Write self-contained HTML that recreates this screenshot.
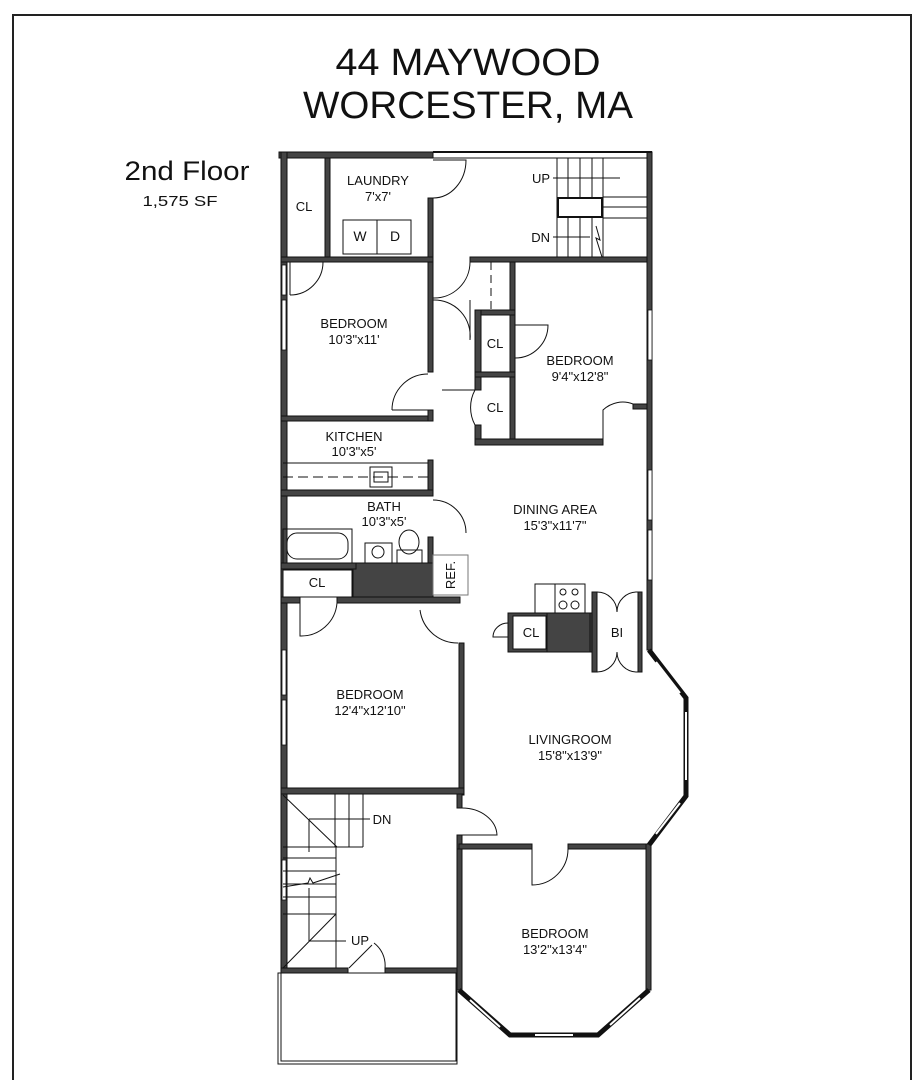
<!DOCTYPE html>
<html><head><meta charset="utf-8"><style>
html,body{margin:0;padding:0;background:#fff;}
svg{display:block;}
text{font-family:"Liberation Sans",sans-serif;fill:#111;}
</style></head><body>
<svg width="922" height="1080" viewBox="0 0 922 1080" xmlns="http://www.w3.org/2000/svg">
<rect x="13" y="15" width="898" height="1080" fill="none" stroke="#222" stroke-width="2"/>
<text x="468" y="75" font-size="38" text-anchor="middle" textLength="265" lengthAdjust="spacingAndGlyphs">44 MAYWOOD</text>
<text x="468" y="118" font-size="38" text-anchor="middle" textLength="330" lengthAdjust="spacingAndGlyphs">WORCESTER, MA</text>
<text x="187" y="180" font-size="27" text-anchor="middle" textLength="125" lengthAdjust="spacingAndGlyphs">2nd Floor</text>
<text x="180" y="206" font-size="15" text-anchor="middle" textLength="75" lengthAdjust="spacingAndGlyphs">1,575 SF</text>

<g fill="#444" stroke="#111" stroke-width="1">
<rect x="279" y="152" width="154" height="6"/>
<rect x="281" y="152" width="6" height="818"/>
<rect x="325" y="158" width="5" height="100"/>
<rect x="428" y="198" width="5" height="60"/>
<rect x="281" y="257" width="152" height="5"/>
<rect x="470" y="257" width="182" height="5"/>
<rect x="647" y="152" width="5" height="498"/>
<rect x="428" y="262" width="5" height="110"/>
<rect x="281" y="416" width="152" height="5"/>
<rect x="428" y="410" width="5" height="11"/>
<rect x="510" y="262" width="5" height="183"/>
<rect x="475" y="310" width="40" height="5"/>
<rect x="475" y="310" width="6" height="80"/>
<rect x="475" y="372" width="40" height="5"/>
<rect x="475" y="425" width="6" height="20"/>
<rect x="475" y="439" width="128" height="6"/>
<rect x="633" y="404" width="14" height="5"/>
<rect x="428" y="460" width="5" height="36"/>
<rect x="281" y="490" width="152" height="6"/>
<rect x="428" y="537" width="5" height="66"/>
<rect x="353" y="563" width="80" height="40"/>
<rect x="281" y="563" width="75" height="6"/>
<rect x="281" y="597" width="19" height="6"/>
<rect x="337" y="597" width="123" height="6"/>
<rect x="459" y="643" width="5" height="152"/>
<rect x="281" y="788" width="183" height="6"/>
<rect x="508" y="613" width="89" height="39"/>
<rect x="547" y="613" width="43" height="39"/>
<rect x="592" y="592" width="5" height="80"/>
<rect x="638" y="592" width="4" height="80"/>
<rect x="457" y="794" width="5" height="14"/>
<rect x="457" y="835" width="5" height="138"/>
<rect x="281" y="968" width="67" height="5"/>
<rect x="385" y="968" width="77" height="5"/>
<rect x="459" y="844" width="73" height="5"/>
<rect x="568" y="844" width="83" height="5"/>
<rect x="646" y="844" width="5" height="146"/>
<rect x="457" y="849" width="5" height="141"/>
</g>
<rect x="513" y="616" width="33" height="33" fill="#fff" stroke="#111"/>
<rect x="283" y="570" width="69" height="27" fill="#fff" stroke="#111"/>
<!-- window breaks on left wall -->
<g fill="#fff" stroke="#111" stroke-width="0.8">
<rect x="282" y="265" width="4" height="30"/>
<rect x="282" y="300" width="4" height="50"/>
<rect x="282" y="650" width="4" height="45"/>
<rect x="282" y="700" width="4" height="45"/>
<rect x="282" y="860" width="4" height="40"/>
<rect x="648" y="310" width="4" height="50"/>
<rect x="648" y="470" width="4" height="50"/>
<rect x="648" y="530" width="4" height="50"/>
</g>

<g fill="none" stroke="#111" stroke-width="5" stroke-linejoin="miter">
<polyline points="649,650 686,698 686,796 649,845"/>
<polyline points="459,990 510,1035 598,1035 649,990"/>
</g>
<g fill="none" stroke="#fff" stroke-width="2">
<line x1="656" y1="662" x2="680" y2="693"/>
<line x1="686" y1="712" x2="686" y2="780"/>
<line x1="680" y1="803" x2="656" y2="834"/>
<line x1="470" y1="1000" x2="500" y2="1027"/>
<line x1="535" y1="1035" x2="573" y2="1035"/>
<line x1="610" y1="1025" x2="640" y2="998"/>
</g>

<g fill="none" stroke="#111" stroke-width="1">
<line x1="433" y1="152" x2="652" y2="152" stroke-width="2"/>
<line x1="433" y1="158" x2="647" y2="158"/>
<line x1="557" y1="158" x2="557" y2="257"/>
<line x1="568" y1="158" x2="568" y2="198"/><line x1="568" y1="217" x2="568" y2="257"/>
<line x1="580" y1="158" x2="580" y2="198"/><line x1="580" y1="217" x2="580" y2="257"/>
<line x1="592" y1="158" x2="592" y2="198"/><line x1="592" y1="217" x2="592" y2="257"/>
<line x1="603" y1="158" x2="603" y2="257"/>
<line x1="603" y1="197" x2="647" y2="197"/><line x1="603" y1="207" x2="647" y2="207"/><line x1="603" y1="218" x2="647" y2="218"/>
<rect x="558" y="198" width="44" height="19" stroke-width="2"/>
<line x1="553" y1="178" x2="620" y2="178"/>
<line x1="553" y1="237" x2="590" y2="237"/>
<polyline points="596,226 600,240 596,238 602,257"/>
<rect x="343" y="220" width="34" height="34"/><rect x="377" y="220" width="34" height="34"/>
<path d="M433,160 L466,160 A33,38 0 0 1 433,198"/>
<path d="M290,295 L290,262 M290,295 A33,33 0 0 0 323,262"/>
<path d="M433,298 A36,36 0 0 0 470,262"/>
<path d="M433,300 A36,36 0 0 1 470,340 L470,300"/>
<path d="M392,410 L428,410 M392,410 A36,36 0 0 1 428,374"/>
<line x1="491" y1="262" x2="491" y2="310" stroke-dasharray="8,5"/>
<path d="M515,325 L548,325 A33,33 0 0 1 515,358"/>
<path d="M442,390 L475,390 A33,35 0 0 0 475,425"/>
<path d="M603,442 L603,410 A30,32 0 0 1 633,404"/>
<line x1="283" y1="463" x2="428" y2="463"/>
<line x1="283" y1="477" x2="428" y2="477" stroke-dasharray="10,5"/>
<rect x="370" y="467" width="22" height="20"/>
<rect x="374" y="472" width="14" height="10"/>
<path d="M433,500 A33,33 0 0 1 466,533"/>
<rect x="283" y="529" width="69" height="34"/>
<rect x="287" y="533" width="61" height="26" rx="10"/>
<rect x="365" y="543" width="27" height="20"/>
<circle cx="378" cy="552" r="6"/>
<rect x="397" y="550" width="25" height="13"/>
<ellipse cx="409" cy="542" rx="10" ry="12"/>
<rect x="433" y="555" width="35" height="40" stroke="#777"/>
<path d="M300,603 L300,636 A36,36 0 0 0 337,603"/>
<path d="M420,610 A38,38 0 0 0 458,643"/>
<rect x="535" y="584" width="50" height="29"/>
<line x1="555" y1="584" x2="555" y2="613"/>
<circle cx="563" cy="592" r="3"/><circle cx="575" cy="592" r="3"/><circle cx="563" cy="605" r="4"/><circle cx="575" cy="605" r="4"/>
<path d="M508,637 L493,637 A15,14 0 0 1 508,623"/>
<path d="M597,592 A20,20 0 0 1 617,612 A20,20 0 0 1 638,592"/>
<path d="M597,672 A20,20 0 0 0 617,652 A20,20 0 0 0 638,672"/>
<path d="M462,808 A35,28 0 0 1 497,835 L462,835"/>
<line x1="283" y1="795" x2="337" y2="847"/>
<line x1="335" y1="794" x2="335" y2="847"/>
<line x1="349" y1="794" x2="349" y2="847"/>
<line x1="363" y1="794" x2="363" y2="847"/>
<line x1="283" y1="847" x2="363" y2="847"/>
<line x1="309" y1="819" x2="370" y2="819"/>
<line x1="309" y1="819" x2="309" y2="852"/>
<line x1="283" y1="858" x2="336" y2="858"/>
<line x1="283" y1="871" x2="336" y2="871"/>
<line x1="283" y1="884" x2="336" y2="884"/>
<line x1="283" y1="897" x2="336" y2="897"/>
<line x1="283" y1="914" x2="336" y2="914"/>
<line x1="336" y1="847" x2="336" y2="968"/>
<polyline points="283,887 308,883 310,878 313,883 340,874"/>
<line x1="283" y1="968" x2="336" y2="914"/>
<line x1="309" y1="888" x2="309" y2="941"/>
<line x1="309" y1="941" x2="346" y2="941"/>
<line x1="349" y1="968" x2="372" y2="945"/>
<path d="M374,943 A28,28 0 0 1 385,968"/>
<path d="M532,849 L532,885 A36,36 0 0 0 568,849"/>
<rect x="278" y="973" width="179" height="91" stroke-width="1"/>
<rect x="281" y="973" width="175" height="88" stroke-width="1"/>
</g>

<g font-size="13" text-anchor="middle" style="fill:#222">
<text x="304" y="211">CL</text>
<text x="378" y="185">LAUNDRY</text>
<text x="378" y="201">7'x7'</text>
<text x="360" y="241" font-size="14">W</text>
<text x="395" y="241" font-size="14">D</text>
<text x="550" y="183" text-anchor="end">UP</text>
<text x="550" y="242" text-anchor="end">DN</text>
<text x="354" y="328">BEDROOM</text>
<text x="354" y="344">10'3"x11'</text>
<text x="495" y="348">CL</text>
<text x="495" y="412">CL</text>
<text x="580" y="365">BEDROOM</text>
<text x="580" y="381">9'4"x12'8"</text>
<text x="354" y="441">KITCHEN</text>
<text x="354" y="456">10'3"x5'</text>
<text x="384" y="511">BATH</text>
<text x="384" y="526">10'3"x5'</text>
<text x="555" y="514">DINING AREA</text>
<text x="555" y="530">15'3"x11'7"</text>
<text x="317" y="587">CL</text>
<text x="531" y="637">CL</text>
<text x="617" y="637">BI</text>
<text x="370" y="699">BEDROOM</text>
<text x="370" y="715">12'4"x12'10"</text>
<text x="570" y="744">LIVINGROOM</text>
<text x="570" y="760">15'8"x13'9"</text>
<text x="382" y="824">DN</text>
<text x="360" y="945">UP</text>
<text x="555" y="938">BEDROOM</text>
<text x="555" y="954">13'2"x13'4"</text>
<text x="455" y="575" transform="rotate(-90 455 575)">REF.</text>
</g>
</svg>
</body></html>
